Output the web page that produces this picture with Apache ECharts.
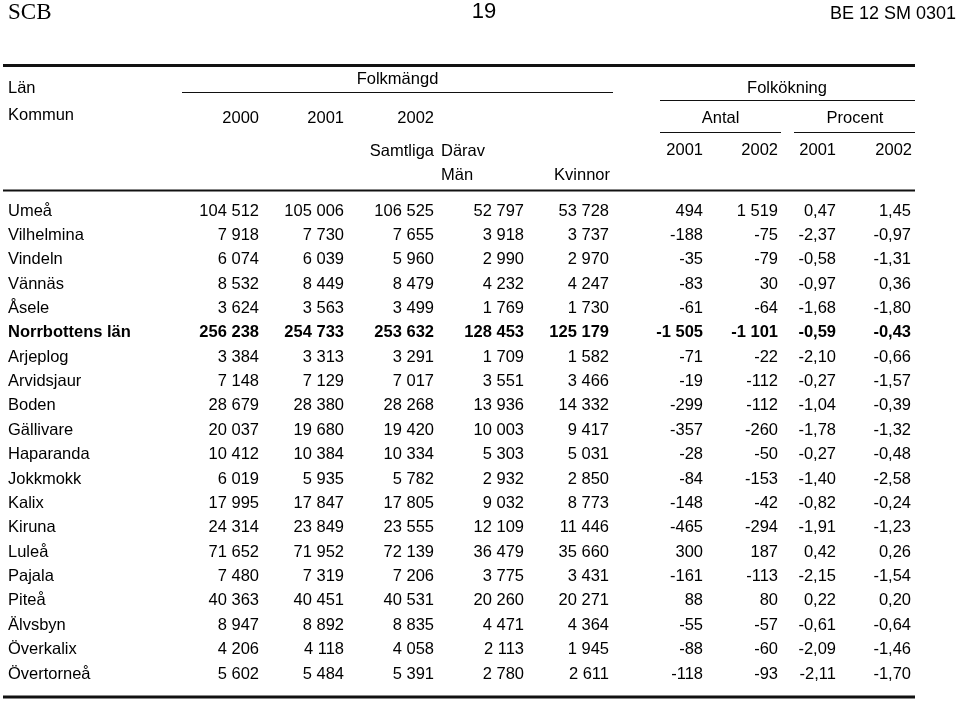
<!DOCTYPE html>
<html><head><meta charset="utf-8">
<script src="https://cdn.jsdelivr.net/npm/echarts@6/dist/echarts.min.js"></script>
<style>html,body{margin:0;padding:0;background:#fff}#c{width:960px;height:702px}</style>
</head><body><div id="c"></div>
<script>
// ---- data ----
const kommun = ['Umeå','Vilhelmina','Vindeln','Vännäs','Åsele','Norrbottens län','Arjeplog','Arvidsjaur','Boden','Gällivare','Haparanda','Jokkmokk','Kalix','Kiruna','Luleå','Pajala','Piteå','Älvsbyn','Överkalix','Övertorneå'];
const boldRows = ['Norrbottens län'];
const pop2000 = [104512,7918,6074,8532,3624,256238,3384,7148,28679,20037,10412,6019,17995,24314,71652,7480,40363,8947,4206,5602];
const pop2001 = [105006,7730,6039,8449,3563,254733,3313,7129,28380,19680,10384,5935,17847,23849,71952,7319,40451,8892,4118,5484];
const pop2002 = [106525,7655,5960,8479,3499,253632,3291,7017,28268,19420,10334,5782,17805,23555,72139,7206,40531,8835,4058,5391];
const man2002 = [52797,3918,2990,4232,1769,128453,1709,3551,13936,10003,5303,2932,9032,12109,36479,3775,20260,4471,2113,2780];
const kvinnor2002 = [53728,3737,2970,4247,1730,125179,1582,3466,14332,9417,5031,2850,8773,11446,35660,3431,20271,4364,1945,2611];
const antal2001 = [494,-188,-35,-83,-61,-1505,-71,-19,-299,-357,-28,-84,-148,-465,300,-161,88,-55,-88,-118];
const antal2002 = [1519,-75,-79,30,-64,-1101,-22,-112,-112,-260,-50,-153,-42,-294,187,-113,80,-57,-60,-93];
const procent2001 = [0.47,-2.37,-0.58,-0.97,-1.68,-0.59,-2.10,-0.27,-1.04,-1.78,-0.27,-1.40,-0.82,-1.91,0.42,-2.15,0.22,-0.61,-2.09,-2.11];
const procent2002 = [1.45,-0.97,-1.31,0.36,-1.80,-0.43,-0.66,-1.57,-0.39,-1.32,-0.48,-2.58,-0.24,-1.23,0.26,-1.54,0.20,-0.64,-1.46,-1.70];

// ---- layout ----
const FONT = '"Liberation Sans", Arial, Helvetica, sans-serif';
const FS = 16.5;
const DY = 1;
const nameX = 8;
const columns = [
  {vals: pop2000, x: 259, dec: 0},
  {vals: pop2001, x: 344, dec: 0},
  {vals: pop2002, x: 434, dec: 0},
  {vals: man2002, x: 524, dec: 0},
  {vals: kvinnor2002, x: 609, dec: 0},
  {vals: antal2001, x: 703, dec: 0},
  {vals: antal2002, x: 778, dec: 0},
  {vals: procent2001, x: 836, dec: 2},
  {vals: procent2002, x: 911, dec: 2}
];

function fmt(v, dec) {
  const neg = v < 0;
  const a = Math.abs(v);
  if (dec > 0) {
    return (neg ? '-' : '') + a.toFixed(dec).replace('.', ',');
  }
  const s = String(Math.round(a)).replace(/\B(?=(\d{3})+(?!\d))/g, ' ');
  return (neg ? '-' : '') + s;
}

function txt(text, x, y, align, opts) {
  opts = opts || {};
  return {
    type: 'text',
    x: x, y: y + DY,
    style: {
      text: text,
      x: 0, y: 0,
      font: (opts.bold ? 'bold ' : '') + (opts.size || FS) + 'px ' + (opts.family || FONT),
      fill: '#000',
      textAlign: align, align: align,
      textVerticalAlign: 'middle', verticalAlign: 'middle'
    },
    silent: true
  };
}
function hline(x1, x2, y, w) {
  return {type: 'line', shape: {x1: x1, y1: y, x2: x2, y2: y}, style: {stroke: '#111', lineWidth: w}, silent: true};
}

const graphics = [
  txt('SCB', 8, 12, 'left', {size: 23, family: '"Liberation Serif", "Times New Roman", serif'}),
  txt('19', 484, 11, 'center', {size: 22}),
  txt('BE 12 SM 0301', 956, 13, 'right', {size: 18}),
  hline(3, 915, 65.5, 3),
  txt('Län', 8, 87, 'left'),
  txt('Kommun', 8, 114, 'left'),
  txt('Folkmängd', 397.5, 78, 'center'),
  hline(182, 613, 92.5, 1),
  txt('2000', 259, 117, 'right'),
  txt('2001', 344, 117, 'right'),
  txt('2002', 434, 117, 'right'),
  txt('Samtliga', 434, 150, 'right'),
  txt('Därav', 441, 150, 'left'),
  txt('Män', 441, 174, 'left'),
  txt('Kvinnor', 610, 174, 'right'),
  txt('Folkökning', 787, 87, 'center'),
  hline(660, 915, 100.5, 1),
  txt('Antal', 720.5, 117, 'center'),
  txt('Procent', 855, 117, 'center'),
  hline(660, 781, 132.5, 1),
  hline(794, 915, 132.5, 1),
  txt('2001', 703, 149, 'right'),
  txt('2002', 778, 149, 'right'),
  txt('2001', 836, 149, 'right'),
  txt('2002', 912, 149, 'right'),
  hline(3, 915, 190.5, 2),
  hline(3, 915, 697, 3)
];

const chart = echarts.init(document.getElementById('c'), null, {renderer: 'canvas'});
chart.setOption({
  animation: false,
  backgroundColor: '#fff',
  grid: {left: 0, right: 0, top: 197.8, height: 487.4},
  xAxis: {type: 'value', min: 0, max: 960, show: false},
  yAxis: {type: 'category', data: kommun, inverse: true, show: false},
  graphic: graphics,
  series: [{
    type: 'custom',
    data: kommun.map((k, i) => [0, i]),
    renderItem: function (params, api) {
      const i = api.value(1);
      const bold = boldRows.indexOf(kommun[i]) >= 0;
      const children = [];
      const pName = api.coord([nameX, i]);
      children.push(txt(kommun[i], pName[0], pName[1], 'left', {bold: bold}));
      columns.forEach(c => {
        const p = api.coord([c.x, i]);
        children.push(txt(fmt(c.vals[i], c.dec), p[0], p[1], 'right', {bold: bold}));
      });
      return {type: 'group', children: children};
    }
  }]
});
</script></body></html>
